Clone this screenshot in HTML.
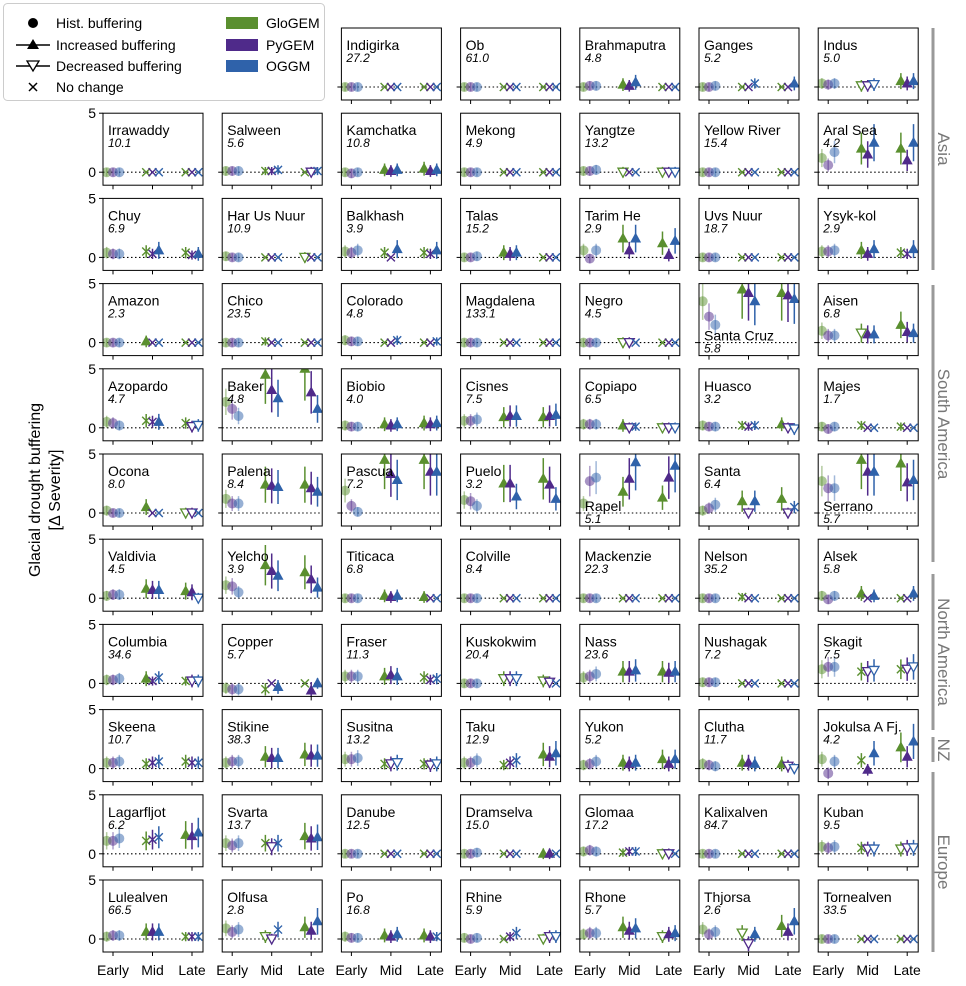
<!DOCTYPE html>
<html><head><meta charset="utf-8"><style>
html,body{margin:0;padding:0;background:#fff}
svg{display:block;font-family:"Liberation Sans","DejaVu Sans",sans-serif}
</style></head><body>
<svg id="s" width="966" height="986" viewBox="0 0 966 986" xmlns="http://www.w3.org/2000/svg">
<rect width="966" height="986" fill="#fff"/>
<text transform="translate(48,490) rotate(-90)" text-anchor="middle" font-size="16" fill="#000"><tspan x="0" dy="-8">Glacial drought buffering</tspan><tspan x="0" dy="20">[Δ Severity]</tspan></text>
<g stroke="#999" stroke-width="3">
<line x1="933" y1="28" x2="933" y2="270"/><line x1="933" y1="285" x2="933" y2="562"/>
<line x1="933" y1="574" x2="933" y2="730"/><line x1="933" y1="737" x2="933" y2="762"/>
<line x1="933" y1="772" x2="933" y2="952"/></g>
<g fill="#777" font-size="17">
<text transform="translate(938,149) rotate(90)" text-anchor="middle">Asia</text>
<text transform="translate(938,424) rotate(90)" text-anchor="middle">South America</text>
<text transform="translate(938,652) rotate(90)" text-anchor="middle">North America</text>
<text transform="translate(938,750) rotate(90)" text-anchor="middle">NZ</text>
<text transform="translate(938,862) rotate(90)" text-anchor="middle">Europe</text>
</g>
<g id="legend">
<rect x="3.5" y="3.5" width="321" height="97" rx="4" fill="#fff" stroke="#ccc"/>
<circle cx="33" cy="23" r="5" fill="#000"/>
<line x1="16" y1="45" x2="50" y2="45" stroke="#000" stroke-width="1.5"/><polygon points="33,39 39,49 27,49" fill="#000"/>
<line x1="16" y1="66" x2="50" y2="66" stroke="#000" stroke-width="1.5"/><polygon points="27,61 39,61 33,71" fill="#fff" stroke="#000" stroke-width="1.3"/>
<path d="M29,83 l8,8 M37,83 l-8,8" stroke="#000" stroke-width="1.5"/>
<g font-size="14" fill="#000">
<text x="56" y="28">Hist. buffering</text><text x="56" y="50">Increased buffering</text>
<text x="56" y="71">Decreased buffering</text><text x="56" y="92">No change</text>
<text x="266" y="28">GloGEM</text><text x="266" y="50">PyGEM</text><text x="266" y="71">OGGM</text></g>
<rect x="226" y="17" width="32" height="12" fill="#5a8f2f"/>
<rect x="226" y="39" width="32" height="12" fill="#4f2a8a"/>
<rect x="226" y="60" width="32" height="12" fill="#2f62aa"/>
</g>
<g id="panels"></g>
</svg>
<script>
var C=["#5a8f2f","#4f2a8a","#2f62aa"];
var Z="0 0 0|x0 x0 x0|x0 x0 x0";
var P=[
[null,null,["Indigirka","27.2",Z],["Ob","61.0",Z],["Brahmaputra","4.8","0 0.1 0.1|^0.2 ^0.1 ^0.4|x0 x0 x0"],["Ganges","5.2","0 0 0.1|x0 x0 x0.3|x0 x0 ^0.3"],["Indus","5.0","0.3 0.2 0.3|v0.1 v0.1 v0.2|^0.5 ^0.3 ^0.5"]],
[["Irrawaddy","10.1",Z],["Salween","5.6","0.1 0.1 0.1|x0.1 x0.1 x0.2|x0 v0 x0.1"],["Kamchatka","10.8","0 -0.1 0|^0.2 ^0.1 ^0.2|^0.3 ^0.1 ^0.2"],["Mekong","4.9",Z],["Yangtze","13.2","0.1 0.1 0.2|v0 x0 x0|v0 v0 v0"],["Yellow River","15.4",Z],["Aral Sea","4.2","1.2 0.6 1.7|^2 ^1.5 ^2.5|^2 ^1 ^2.5"]],
[["Chuy","6.9","0.4 0.3 0.3|x0.5 x0.3 ^0.6|x0.4 x0.2 ^0.3"],["Har Us Nuur","10.9","0.1 0 0|x0 x0 x0|v0 x0 x0"],["Balkhash","3.9","0.5 0.4 0.6|x0.4 x0 ^0.7|x0.4 x0.3 ^0.6"],["Talas","15.2","0 0 0.1|^0.4 ^0.3 ^0.4|x0 x0 x0"],["Tarim He","2.9","0.6 -0.1 0.6|^1.6 ^0.6 ^1.6|^1.2 ^0.2 ^1.4"],["Uvs Nuur","18.7",Z],["Ysyk-kol","2.9","0.5 0.5 0.6|^0.6 ^0.3 ^0.7|x0.4 x0.3 ^0.7"]],
[["Amazon","2.3","0 0 0|^0.1 x0 x0|x0 x0 x0"],["Chico","23.5","0 0 0|x0.1 x0 x0|x0 x0 x0"],["Colorado","4.8","0.2 0.1 0.1|x0 x0 x0.2|x0 x0 x0.1"],["Magdalena","133.1",Z],["Negro","4.5","0 0 0|v0 v0 x0|x0 x0 x0"],["Santa Cruz","5.8","3.5 2.2 1.5|^4.5 ^4.2 ^3.5|^4.2 ^4 ^3.7",1],["Aisen","6.8","1 0.6 0.6|v0.8 ^0.7 ^0.7|^1.5 ^0.9 ^0.8"]],
[["Azopardo","4.7","0.5 0.4 0.2|x0.6 x0.5 ^0.5|x0.4 v0.1 v0.2"],["Baker","4.8","2.2 1.6 1.0|^4.5 ^3.2 ^2.5|^5 ^3 ^1.6"],["Biobio","4.0","0.2 0.1 0.1|^0.3 ^0.2 ^0.3|^0.4 ^0.3 ^0.4"],["Cisnes","7.5","0.6 0.6 0.7|^0.9 ^1 ^1|^0.9 ^1 ^1.1"],["Copiapo","6.5","0.3 0.3 0.3|^0.2 v0 x0.1|v0 v0 v0"],["Huasco","3.2","0.2 0.1 0.1|x0.2 x0.1 x0.2|^0.3 v0 v-0.1"],["Majes","1.7","0.1 -0.1 0.1|x0.2 x0 x0|x0.1 x0 x0"]],
[["Ocona","8.0","0.2 0 0|^0.5 x0 x0|v0 v0 x0"],["Palena","8.4","1.2 0.8 0.8|^2.4 ^2.3 ^2.2|^2.4 ^2.1 ^1.8"],["Pascua","7.2","1.9 0.6 0.1|^4.5 ^3.3 ^2.8|^4.5 ^3.5 ^3.5"],["Puelo","3.2","1.1 1 0.6|^2.5 ^2.5 ^1.4|^2.9 ^2.4 ^1.2"],["Rapel","5.1","0.8 2.7 3.0|^1.8 ^2.9 ^4.3|^1.3 ^3 ^4",1],["Santa","6.4","0.2 0.4 0.7|^1 v0 ^1|^1.2 v0 x0.5"],["Serrano","5.7","2.7 2.1 2.1|^4.5 ^3.5 ^3.5|^4.2 ^2.6 ^2.8",1]],
[["Valdivia","4.5","0.2 0.3 0.3|^0.8 ^0.7 ^0.7|^0.6 ^0.5 v0"],["Yelcho","3.9","1.1 1 0.5|^2.8 ^2.3 ^1.9|^2.2 ^1.6 ^0.9"],["Titicaca","6.8","0 0 0|^0.2 ^0.1 ^0.2|^0.1 x0 x0"],["Colville","8.4",Z],["Mackenzie","22.3",Z],["Nelson","35.2","0 0 0|x0.1 x0 x0|x0 x0 x0"],["Alsek","5.8","0.2 -0.1 0.2|^0.4 x0 ^0.2|x0 x0 ^0.4"]],
[["Columbia","34.6","0.3 0.3 0.4|^0.4 x0.2 x0.5|x0.2 v0.2 v0.2"],["Copper","5.7","-0.4 -0.5 -0.5|x-0.5 x0 ^-0.3|x0 ^-0.6 ^0"],["Fraser","11.3","0.6 0.6 0.6|^0.6 ^0.7 ^0.6|x0.5 x0.3 x0.4"],["Kuskokwim","20.4","0 0 0|v0.4 v0.4 v0.4|v0.2 v0.1 x0"],["Nass","23.6","0.5 0.6 0.8|^1 ^1 ^1.1|^1 ^0.9 ^1"],["Nushagak","7.2","0.1 0.1 0.1|x0 x0 x0|x0 x0 x0"],["Skagit","7.5","1.2 1.4 1.4|x1 v1 v1.1|x1.2 v1.2 v1.4"]],
[["Skeena","10.7","0.5 0.5 0.6|x0.4 x0.5 x0.6|x0.6 x0.5 x0.5"],["Stikine","38.3","0.5 0.6 0.6|^1 ^0.9 ^0.9|^1.2 ^1.1 ^1.1"],["Susitna","13.2","0.8 0.8 0.9|x0.4 v0.4 v0.5|x0.4 v0.3 v0.4"],["Taku","12.9","0.5 0.5 0.7|x0.3 x0.5 x0.7|^1.2 ^1 ^1.3"],["Yukon","5.2","0.3 0.4 0.6|^0.5 ^0.4 ^0.5|^0.8 ^0.4 ^0.8"],["Clutha","11.7","0.4 0.3 0.2|^0.5 ^0.5 ^0.4|^0.4 v0.2 v0"],["Jokulsa A Fj.","4.2","0.8 -0.4 0.6|x0.7 ^-0.1 ^1.3|^1.8 ^1 ^2.3"]],
[["Lagarfljot","6.2","1.1 1.1 1.3|x1.1 x1.2 x1.4|^1.6 ^1.5 ^1.8"],["Svarta","13.7","0.9 0.7 0.9|x0.9 v0.6 x0.9|^1.5 ^1.3 ^1.4"],["Danube","12.5",Z],["Dramselva","15.0","0 0 0.1|x0 x0 x0|^0 ^0 x0"],["Glomaa","17.2","0.2 0.3 0.2|x0.1 x0.2 x0.2|v0 v0 x0"],["Kalixalven","84.7",Z],["Kuban","9.5","0.6 0.5 0.6|x0.5 v0.4 v0.4|v0.4 v0.5 v0.5"]],
[["Lulealven","66.5","0.2 0.3 0.3|^0.6 ^0.6 ^0.6|x0.2 x0.2 x0.2"],["Olfusa","2.8","0.9 0.6 0.8|v0.2 v0 x0.8|^1 ^0.7 ^1.5"],["Po","16.8","0.2 0.1 0.1|^0.3 ^0.2 ^0.4|^0.3 ^0.2 x0.2"],["Rhine","5.9","0.1 0 0.1|x0 x0.2 x0.5|v0 v0.2 v0.2"],["Rhone","5.7","0.4 0.5 0.5|^1 ^0.7 ^0.9|v0.2 ^0.4 ^0.5"],["Thjorsa","2.6","0.8 0.4 0.6|v0.5 v-0.4 ^0.4|^1.1 ^0.6 ^1.5"],["Tornealven","33.5",Z]]
];
var D=0.16,o="";
for(var r=0;r<11;r++)for(var c=0;c<7;c++){
 var p=P[r][c];if(!p)continue;
 var L=103+c*119.2,T=28+r*85.2,W=100,H=72;
 var X=function(u){return L+10+u*39.5},Y=function(v){return T+59-v*11.8};
 var id="cp"+r+"_"+c;
 o+='<clipPath id="'+id+'"><rect x="'+L+'" y="'+T+'" width="'+W+'" height="'+H+'"/></clipPath>';
 o+='<line x1="'+L+'" x2="'+(L+W)+'" y1="'+Y(0)+'" y2="'+Y(0)+'" stroke="#000" stroke-dasharray="1.5,2.5" stroke-width="1.1"/>';
 var parts=p[2].split("|"),g='<g clip-path="url(#'+id+')">';
 var h=parts[0].split(" ");
 for(var m=0;m<3;m++){var v=+h[m],x=X(-D+m*D),e=0.35+0.35*Math.abs(v);
  g+='<line x1="'+x+'" x2="'+x+'" y1="'+Y(v-e)+'" y2="'+Y(v+e)+'" stroke="'+C[m]+'" stroke-opacity="0.45" stroke-width="1.5"/>';
  g+='<circle cx="'+x+'" cy="'+Y(v)+'" r="5" fill="'+C[m]+'" fill-opacity="0.5"/>';}
 for(var k=1;k<3;k++){var it=parts[k].split(" ");
  for(var m=0;m<3;m++){var s=it[m][0],v=+it[m].slice(1),x=X(k-D+m*D),y=Y(v),e=(s=="x"?0.3:0.45)+0.45*Math.abs(v);
   if(s!="x"||v!=0)g+='<line x1="'+x+'" x2="'+x+'" y1="'+Y(v-e)+'" y2="'+Y(v+e)+'" stroke="'+C[m]+'" stroke-width="1.5"/>';
   if(s=="^")g+='<polygon points="'+x+','+(y-6)+' '+(x+5.5)+','+(y+4)+' '+(x-5.5)+','+(y+4)+'" fill="'+C[m]+'"/>';
   else if(s=="v")g+='<polygon points="'+(x-5)+','+(y-4)+' '+(x+5)+','+(y-4)+' '+x+','+(y+5)+'" fill="#fff" stroke="'+C[m]+'" stroke-width="1.3"/>';
   else g+='<path d="M'+(x-4)+','+(y-4)+'l8,8M'+(x+4)+','+(y-4)+'l-8,8" stroke="'+C[m]+'" stroke-width="1.4"/>';}}
 g+='</g>';o+=g;
 o+='<rect x="'+L+'" y="'+T+'" width="'+W+'" height="'+H+'" fill="none" stroke="#000" stroke-width="1"/>';
 var ty=p[3]?T+57:T+22;
 o+='<text x="'+(L+5)+'" y="'+ty+'" font-size="14">'+p[0]+'</text><text x="'+(L+5)+'" y="'+(ty+12)+'" font-size="12" font-style="italic">'+p[1]+'</text>';
 for(var t=0;t<3;t++)o+='<line x1="'+X(t)+'" x2="'+X(t)+'" y1="'+(T+H)+'" y2="'+(T+H+4)+'" stroke="#000"/>';
 o+='<line x1="'+(L-4)+'" x2="'+L+'" y1="'+Y(0)+'" y2="'+Y(0)+'" stroke="#000"/>';
 if(c==0){o+='<line x1="'+(L-4)+'" x2="'+L+'" y1="'+Y(5)+'" y2="'+Y(5)+'" stroke="#000"/>';
  o+='<text x="'+(L-7)+'" y="'+(Y(5)+5)+'" font-size="14" text-anchor="end">5</text><text x="'+(L-7)+'" y="'+(Y(0)+5)+'" font-size="14" text-anchor="end">0</text>';}
 if(r==10){var n=["Early","Mid","Late"];for(var t=0;t<3;t++)o+='<text x="'+X(t)+'" y="975" font-size="14" text-anchor="middle">'+n[t]+'</text>';}
}
document.getElementById("panels").innerHTML=o;
</script>
</body></html>
